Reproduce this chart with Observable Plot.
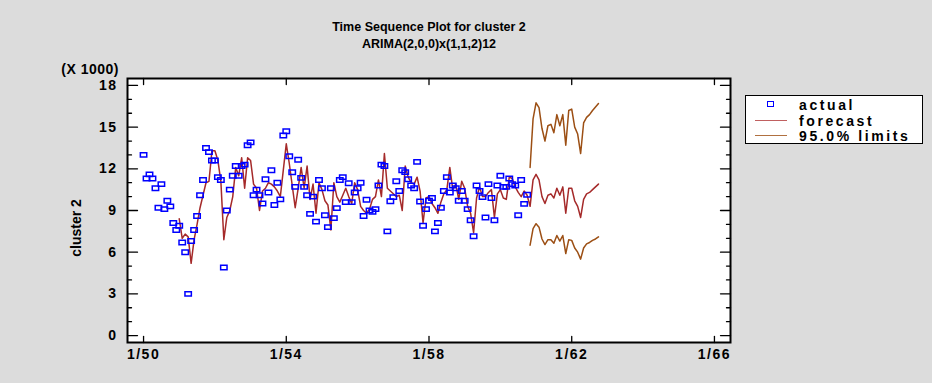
<!DOCTYPE html>
<html><head><meta charset="utf-8">
<script src="https://cdn.jsdelivr.net/npm/d3@7"></script>
<script src="https://cdn.jsdelivr.net/npm/@observablehq/plot@0.6"></script>
<style>
html,body{margin:0;padding:0;background:#dcdcdc;}
#wrap{position:relative;width:932px;height:383px;background:#dcdcdc;font-family:"Liberation Sans",Arial,sans-serif;font-weight:bold;overflow:hidden;color:#000}
#chart{position:absolute;left:0;top:0}
.t{position:absolute;white-space:nowrap;line-height:1}
.c{transform:translate(-50%,-50%)}
#title{left:429px;top:27px;font-size:12.5px}
#sub{left:429px;top:44px;font-size:12.5px}
#units{right:813px;top:62px;font-size:14px;letter-spacing:0.5px}
#ylab{left:76px;top:228px;font-size:14px;transform:translate(-50%,-50%) rotate(-90deg)}
#legend{position:absolute;left:745px;top:95px;width:176px;height:47px;background:#fff;border:1px solid #000}
.lt{position:absolute;left:53px;font-size:14px;letter-spacing:2.6px;transform:translateY(-50%)}
.ll{position:absolute;left:9px;width:32px;height:0;border-top:1px solid}
.lm{position:absolute;left:21px;width:5px;height:4px;border:1.5px solid #0000ff}
svg [aria-label="x-axis tick label"] text,svg [aria-label="y-axis tick label"] text{letter-spacing:1.5px}
</style></head><body>
<div id="wrap">
  <div id="chart"></div>
  <div id="title" class="t c">Time Sequence Plot for cluster 2</div>
  <div id="sub" class="t c">ARIMA(2,0,0)x(1,1,2)12</div>
  <div id="units" class="t">(X 1000)</div>
  <div id="ylab" class="t">cluster 2</div>
  <div id="legend">
    <div class="lm" style="top:5px"></div>
    <div class="lt" style="top:9px">actual</div>
    <div class="ll" style="top:24px;border-color:#c06060"></div>
    <div class="lt" style="top:25px">forecast</div>
    <div class="ll" style="top:39px;border-color:#b07040"></div>
    <div class="lt" style="top:40px">95.0% limits</div>
  </div>
</div>
<script>
// month index 0 = Jan 1950
const actualStart = 0;
const actual = [
13.0,11.3,11.6,11.3,10.6,9.2,10.9,9.1,9.7,9.3,8.1,7.6,
7.9,6.7,6.0,3.0,6.8,7.6,8.6,10.1,11.2,13.5,13.2,12.6,
12.6,11.4,11.2,4.9,9.0,10.5,11.5,12.2,11.5,12.2,12.3,13.7,
13.9,10.1,10.5,10.1,9.5,11.25,10.3,11.9,9.4,11.0,9.8,14.4,
14.7,12.9,11.75,10.7,12.65,11.35,10.7,10.1,8.76,10.0,8.2,11.2,
10.6,8.66,7.8,10.6,8.45,9.17,11.2,11.4,9.6,10.96,9.6,10.3,
10.6,11.0,8.6,9.77,9.0,8.9,9.1,10.8,12.3,12.2,7.5,9.67,
9.96,11.1,10.4,11.9,11.76,11.25,10.8,10.6,12.5,9.65,7.9,9.1,
9.7,9.9,7.5,8.1,9.2,10.4,11.4,10.3,10.8,10.6,9.7,10.4,
9.7,9.1,8.3,7.15,10.8,10.4,9.96,8.5,10.9,9.9,8.3,10.8,
11.5,10.7,10.7,11.3,10.9,10.8,8.66,11.2,9.48,10.13
];
const fittedStart = 12;
const fitted = [
8.4,7.0,7.3,7.1,5.2,6.9,8.0,9.2,10.1,11.0,11.1,13.3,
13.3,12.6,11.1,6.9,8.5,9.0,10.0,12.1,11.5,12.8,10.6,12.8,
12.6,10.9,10.6,9.0,10.4,10.6,11.0,10.9,10.7,10.4,10.0,11.9,
13.8,12.4,10.8,9.2,10.6,12.1,10.6,12.2,9.8,10.9,8.8,11.0,
10.5,9.7,9.4,7.6,11.0,10.0,9.6,10.1,10.6,10.0,9.5,11.0,
10.5,9.3,9.0,8.8,9.1,9.8,10.0,11.2,10.0,13.1,10.6,10.4,
10.2,10.0,10.1,9.0,12.2,11.4,11.0,10.9,11.4,10.4,8.1,9.9,
10.0,9.5,9.2,8.8,9.6,10.2,10.5,12.1,10.5,10.9,9.8,11.1,
10.6,9.3,8.8,7.4,9.9,10.7,10.0,10.0,10.3,10.5,8.5,10.2,
10.5,9.9,9.8,11.4,11.3,10.7,10.3,10.0,10.4,10.1
];
const forecastStart = 130;
const forecast = [9.3,11.2,11.6,11.2,10.0,9.5,10.1,10.2,9.9,10.6,10.1,10.7,
                  8.8,10.6,10.6,9.7,9.3,8.5,9.8,10.2,10.3,10.5,10.7,10.9];
const upper = [12.1,15.6,16.75,16.4,14.9,14.0,15.1,15.2,14.6,15.9,15.1,15.9,
               13.7,16.2,16.3,15.0,14.5,13.1,15.3,15.7,15.9,16.2,16.45,16.7];
const lower = [6.5,7.7,8.05,7.8,6.95,6.55,6.9,6.9,6.65,7.2,6.8,7.2,
               5.9,6.9,6.85,6.3,6.0,5.5,6.3,6.6,6.7,6.85,6.95,7.1];
const yTicks = [0,3,6,9,12,15,18];
const yMinor = [1,2,4,5,7,8,10,11,13,14,16,17];
const xTicks = [1950,1954,1958,1962,1966];
const xTickLabels = ["1/50","1/54","1/58","1/62","1/66"];

const t = m => 1950 + m / 12;
const actualData = actual.map((v, i) => ({x: t(actualStart + i), y: v}));
const lineData = fitted.concat(forecast).map((v, i) => ({x: t(fittedStart + i), y: v}));
const upData = upper.map((v, i) => ({x: t(forecastStart + i), y: v}));
const loData = lower.map((v, i) => ({x: t(forecastStart + i), y: v}));

const boxSymbol = {draw(ctx) { ctx.rect(-3.2, -2.2, 6.4, 4.4); }};
const tickShape = {draw(ctx, l) { ctx.moveTo(0, 0); ctx.lineTo(0, -l); }};
const tk = (data, ch, anchor, rotate, length) =>
  Plot.vector(data, {[ch]: d => d, frameAnchor: anchor, rotate, length, anchor: "start",
    shape: tickShape, stroke: "#000", strokeWidth: 1.3});

const chart = Plot.plot({
  width: 932, height: 383,
  marginLeft: 127, marginRight: 202, marginTop: 78, marginBottom: 41,
  style: {background: "transparent", fontFamily: "Liberation Sans, Arial, sans-serif", fontSize: "14px", fontWeight: "bold", color: "#000"},
  x: {domain: [1949.55, 1966.45]},
  y: {domain: [-0.5, 18.5]},
  marks: [
    Plot.frame({fill: "#fff", stroke: null}),
    Plot.line(upData, {x: "x", y: "y", stroke: "#9c4f14", strokeWidth: 1.5}),
    Plot.line(loData, {x: "x", y: "y", stroke: "#9c4f14", strokeWidth: 1.5}),
    Plot.line(lineData, {x: "x", y: "y", stroke: "#a52a2a", strokeWidth: 1.5}),
    Plot.dot(actualData, {x: "x", y: "y", symbol: boxSymbol, stroke: "#0000ff", fill: "none", strokeWidth: 1.5}),
    tk(yMinor, "y", "left", 90, 4),
    tk(yTicks, "y", "left", 90, 10),
    tk(yMinor, "y", "right", -90, 4),
    tk(yTicks, "y", "right", -90, 10),
    tk(xTicks, "x", "top", 180, 6),
    tk(xTicks, "x", "bottom", 0, 6),
    Plot.axisY({ticks: yTicks, tickSize: 0, tickPadding: 10, label: null, fontSize: 14, fontWeight: "bold", fill: "#000"}),
    Plot.axisX({ticks: xTicks, tickFormat: d => xTickLabels[xTicks.indexOf(d)], tickSize: 0, tickPadding: 7, label: null, fontSize: 14, fontWeight: "bold", fill: "#000"}),
    Plot.frame({stroke: "#000", strokeWidth: 2})
  ]
});
document.getElementById("chart").appendChild(chart);
</script>
</body></html>
